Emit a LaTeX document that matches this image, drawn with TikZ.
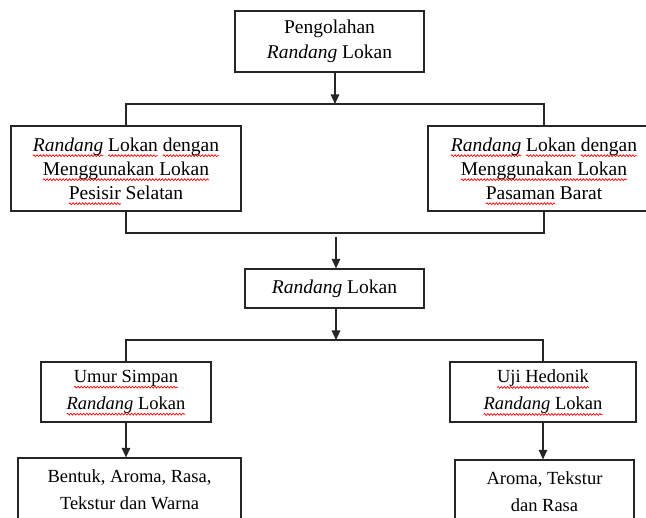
\documentclass[tikz,border=0pt]{standalone}
\usepackage{fontspec}
\setmainfont{Liberation Serif}
\usetikzlibrary{arrows.meta,decorations.pathmorphing}
\newsavebox\sqbox
\newcommand\sq[1]{\sbox\sqbox{#1}\tikz[baseline=0pt,x=1pt,y=1pt]{\draw[overlay,red,line width=0.7pt,decorate,decoration={snake,amplitude=0.9pt,segment length=3.2pt}] (0pt,-4.5pt) -- (\wd\sqbox,-4.5pt);}\usebox\sqbox}
\begin{document}
\begin{tikzpicture}[x=1pt,y=-1pt,
  box/.style={draw=black!85, line width=1.2pt, align=center, inner sep=0pt, font=\fontsize{19.5}{24}\selectfont},
  wide/.style={font=\fontsize{19.5}{25}\selectfont},
  tall/.style={font=\fontsize{18.5}{27}\selectfont},
  link/.style={draw=black!85, line width=1.2pt},
  arr/.style={link, -{Triangle[width=8.5pt,length=9.5pt]}}]
\useasboundingbox (0,0) rectangle (646,518);
\fill[white] (0,0) rectangle (646,518);

\node[box, wide, minimum width=189pt, minimum height=61pt] (top) at (329.5,41.5) {Pengolahan\\\textit{Randang} Lokan};
\node[box, minimum width=230pt, minimum height=85pt] (left) at (126,168.5)
  {\sq{\textit{Randang}} \sq{Lokan} \sq{dengan}\\\sq{Menggunakan Lokan}\\\sq{Pesisir} Selatan};
\node[box, minimum width=232pt, minimum height=85pt] (right) at (544,168.5)
  {\sq{\textit{Randang}} \sq{Lokan} \sq{dengan}\\\sq{Menggunakan Lokan}\\\sq{Pasaman} Barat};
\node[box, minimum width=179pt, minimum height=39pt] (mid) at (334.5,288.5) {\textit{Randang} Lokan};
\node[box, tall, minimum width=170pt, minimum height=60pt] (umur) at (126,392)
  {\sq{Umur Simpan}\\\sq{\textit{Randang} Lokan}};
\node[box, tall, minimum width=186pt, minimum height=60pt] (uji) at (543,392)
  {\sq{Uji Hedonik}\\\sq{\textit{Randang} Lokan}};
\node[box, tall, minimum width=223pt, minimum height=64pt] (bl) at (129.5,490)
  {Bentuk, Aroma, Rasa,\\Tekstur dan Warna};
\node[box, tall, minimum width=179pt, minimum height=63pt] (br) at (544.5,491.5)
  {Aroma, Tekstur\\dan Rasa};

\coordinate (j1) at (335,104);
\coordinate (j2) at (336,233);
\coordinate (j2s) at (336,237);
\coordinate (j3) at (336,340);

\draw[arr] (j1 |- top.south) -- (j1);
\draw[link] (left.north) |- (right.north |- j1) -- (right.north);
\draw[link] (left.south) |- (right.south |- j2) -- (right.south);
\draw[arr] (j2s) -- (j2s |- mid.north);
\draw[arr] (j3 |- mid.south) -- (j3);
\draw[link] (umur.north) |- (uji.north |- j3) -- (uji.north);
\draw[arr] (umur.south) -- (umur.south |- bl.north);
\draw[arr] (uji.south) -- (uji.south |- br.north);
\end{tikzpicture}
\end{document}
